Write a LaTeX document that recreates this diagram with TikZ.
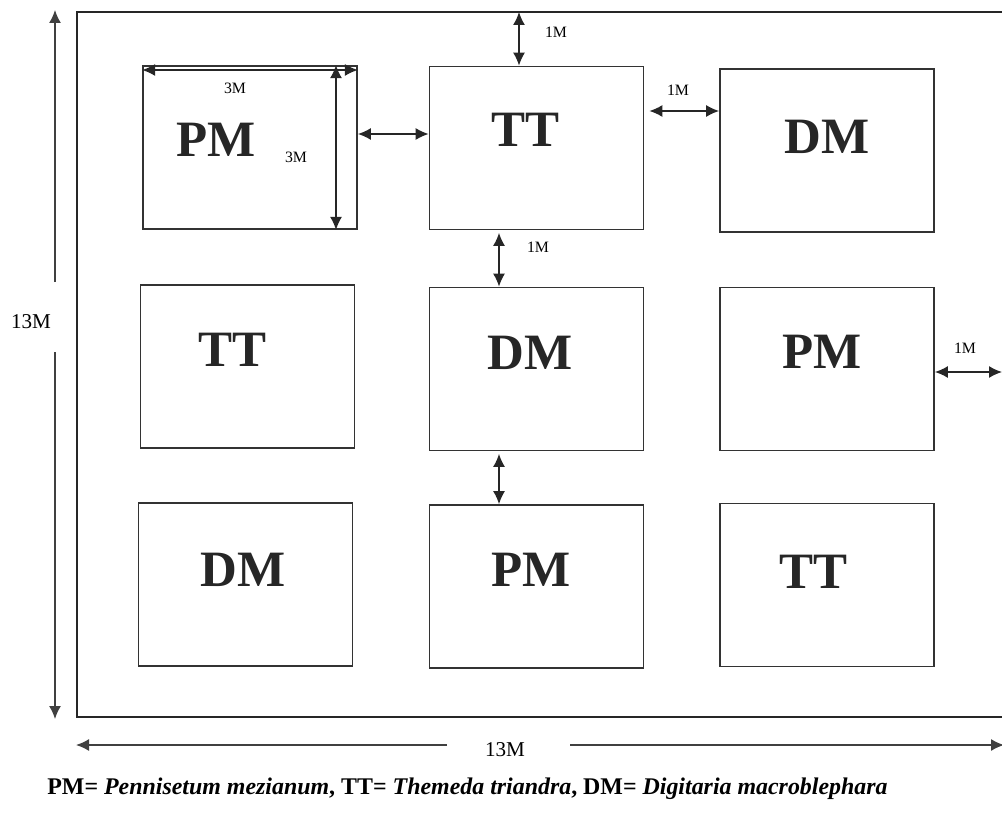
\documentclass[tikz,border=0pt]{standalone}
\usepackage{fontspec}
\setmainfont{Liberation Serif}
\usetikzlibrary{positioning, arrows.meta, calc}

\begin{document}
\begin{tikzpicture}[
	x=0.2mm, y=-0.2mm,
	% Define Node Styles
	plotbox/.style={draw=black!80, line width=1pt, minimum width=4.28cm, minimum height=3.26cm, inner sep=0pt},
	species/.style={font=\fontsize{29}{32}\selectfont\bfseries, text=black!85},
	gaplabel/.style={font=\fontsize{9}{10}\selectfont, inner sep=1pt},
	sidelabel/.style={font=\fontsize{12}{14}\selectfont, inner sep=1pt},
	% Define Arrow Styles
	dimarrow/.style={{Latex[length=2.6mm, width=2.4mm]}-{Latex[length=2.6mm, width=2.4mm]}, line width=0.8pt, black!85},
	onearrow/.style={-{Latex[length=2.6mm, width=2.4mm]}, line width=0.8pt, black!75},
	frame/.style={line width=1pt, black!85}
	]
	\clip (0,0) rectangle (1002,814);
	
	% Field frame (right side runs off the page)
	\coordinate (ftl) at (77,12);
	\coordinate (fbl) at (77,717);
	\coordinate (ftr) at (1010,12);
	\coordinate (fbr) at (1010,717);
	\draw[frame] (ftr) -- (ftl) -- (fbl) -- (fbr);
	
	% Plots
	\node[plotbox] (pm1) at (250,147.5) {};
	\node[plotbox] (tt1) at (536.5,148) {};
	\node[plotbox] (dm1) at (827,150.5) {};
	\node[plotbox] (tt2) at (247.5,366.5) {};
	\node[plotbox] (dm2) at (536.5,369) {};
	\node[plotbox] (pm2) at (827,369) {};
	\node[plotbox] (dm3) at (245.5,584.5) {};
	\node[plotbox] (pm3) at (536.5,586.5) {};
	\node[plotbox] (tt3) at (827,585) {};
	
	% Plot labels
	\node[species] (pm1t) at (216,140) {PM};
	\node[species] (tt1t) at (525,130) {TT};
	\node[species] (dm1t) at (827,137) {DM};
	\node[species] (tt2t) at (232,350) {TT};
	\node[species] (dm2t) at (530,353) {DM};
	\node[species] (pm2t) at (822,352) {PM};
	\node[species] (dm3t) at (243,570) {DM};
	\node[species] (pm3t) at (531,570) {PM};
	\node[species] (tt3t) at (813,572) {TT};
	
	% Plot size (3M x 3M)
	\draw[dimarrow] (pm1.west |- 0,70) -- (pm1.east |- 0,70);
	\draw[dimarrow] (pm1.north -| 336,0) -- (pm1.south -| 336,0);
	\node[gaplabel] (w3) at (235,88) {3M};
	\node[gaplabel] (h3) at (296,157) {3M};
	
	% Spacing between plots (1M)
	\draw[dimarrow] (pm1.east |- 0,134) -- (tt1.west |- 0,134);
	\draw[dimarrow] (tt1.north -| 519,0) -- (ftl -| 519,0);
	\node[gaplabel] (g1) at (556,32) {1M};
	\draw[dimarrow] ([xshift=1mm]tt1.east |- 0,111) -- (dm1.west |- 0,111);
	\node[gaplabel] (g2) at (678,90) {1M};
	\draw[dimarrow] ([yshift=-0.5mm]tt1.south -| 499,0) -- (dm2.north -| 499,0);
	\node[gaplabel] (g3) at (538,247) {1M};
	\draw[dimarrow] ([yshift=-0.5mm]dm2.south -| 499,0) -- (pm3.north -| 499,0);
	\draw[dimarrow] (pm2.east |- 0,372) -- (1002,372);
	\node[gaplabel] (g4) at (965,348) {1M};
	
	% Field size (13M)
	\node[sidelabel] (side13) at (31,322) {13M};
	\coordinate (vtop) at (55,282);
	\coordinate (vbot) at (55,352);
	\draw[onearrow] (vtop) -- (55,10);
	\draw[onearrow] (vbot) -- (55,719);
	\node[sidelabel] (base13) at (505,750) {13M};
	\coordinate (hleft) at (447,745);
	\coordinate (hright) at (570,745);
	\draw[onearrow] (hleft) -- (76,745);
	\draw[onearrow] (hright) -- (1004,745);
	
	% Key
	\node[font=\fontsize{13.6}{15}\selectfont\bfseries, inner sep=0pt] (key) at (467.5,789)
		{PM= \textit{Pennisetum mezianum}, TT= \textit{Themeda triandra}, DM= \textit{Digitaria macroblephara}};
\end{tikzpicture}
\end{document}
